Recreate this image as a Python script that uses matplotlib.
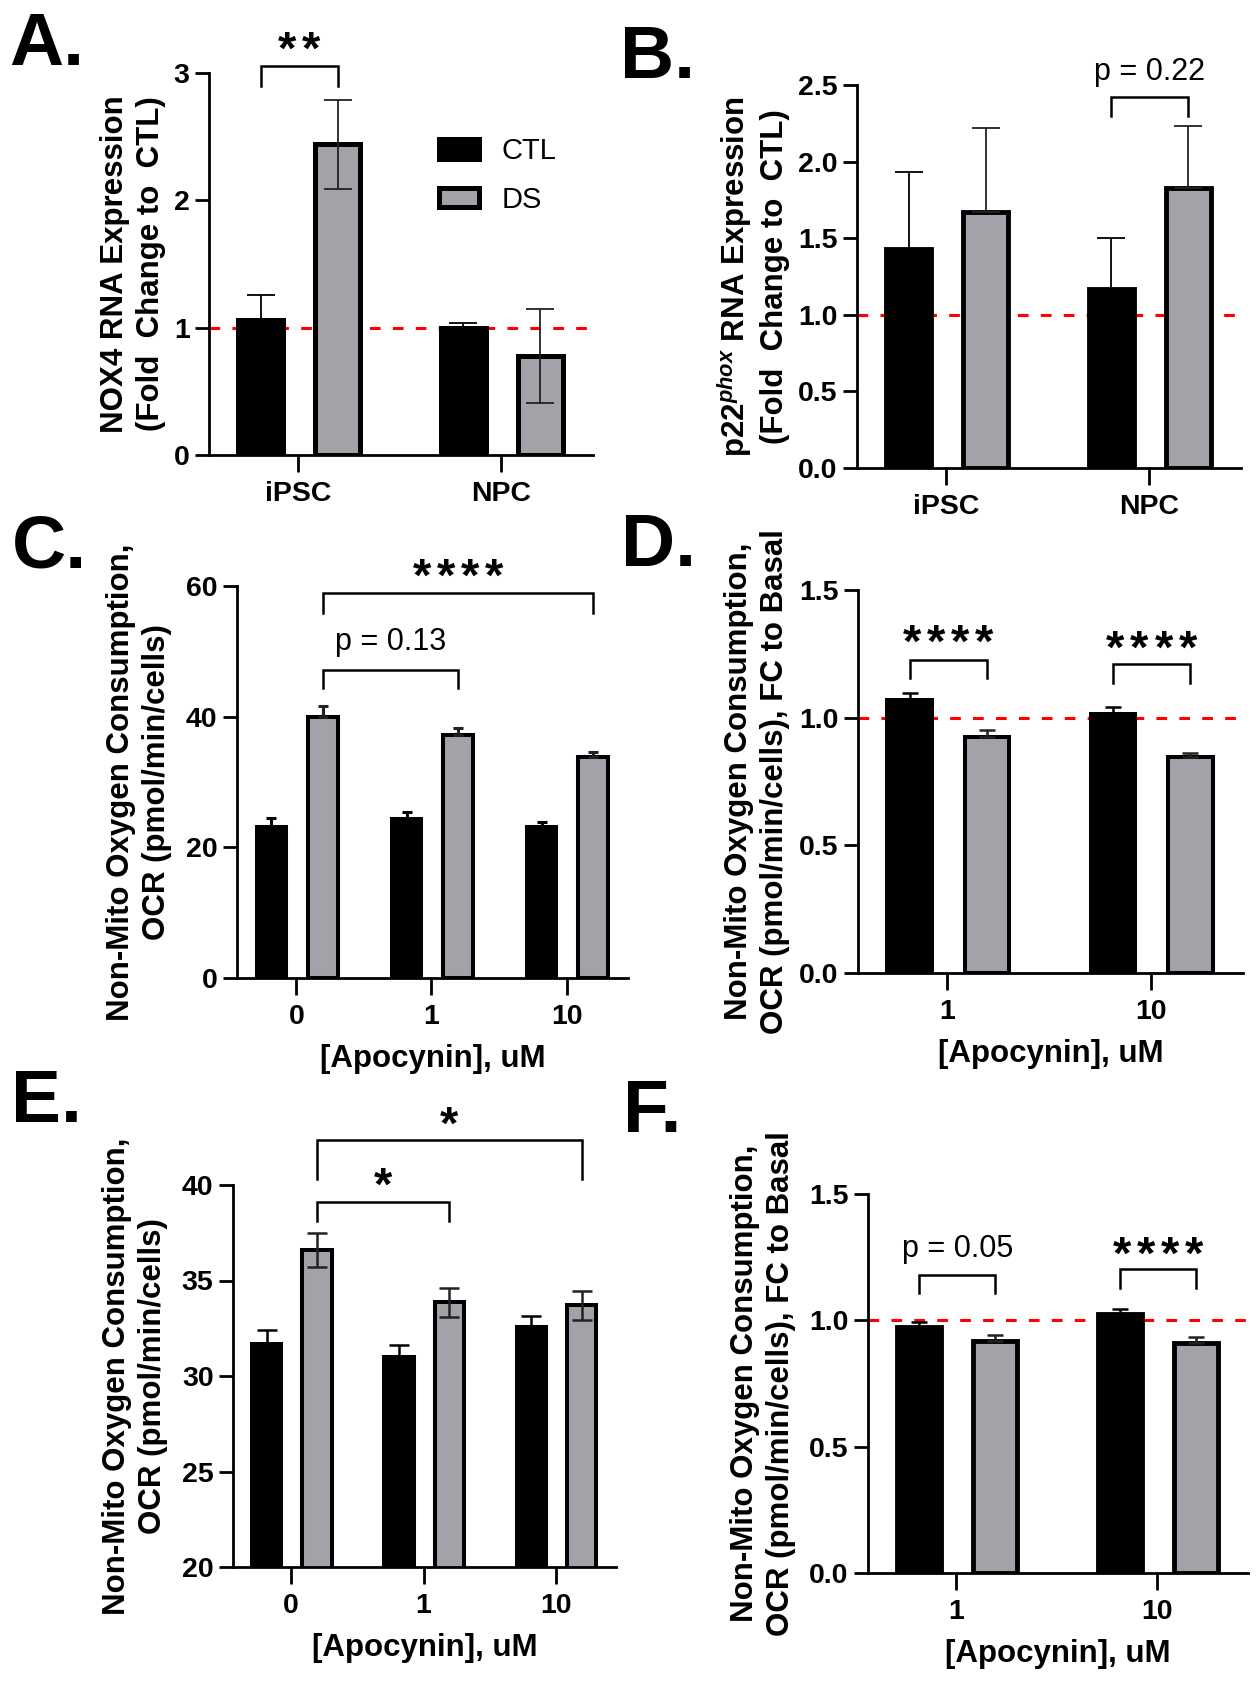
import matplotlib
matplotlib.use("Agg")
import matplotlib.pyplot as plt
import numpy as np

plt.rcParams["font.family"] = ["Liberation Sans", "DejaVu Sans"]
plt.rcParams["font.weight"] = "bold"
plt.rcParams["axes.labelweight"] = "bold"
plt.rcParams["mathtext.fontset"] = "custom"
plt.rcParams["mathtext.it"] = "Liberation Sans:italic:bold"
plt.rcParams["mathtext.rm"] = "Liberation Sans:bold"

W, H = 1260, 1684
GREY = "#a3a2a8"

# ---- data ----
cell_types = ["iPSC", "NPC"]
nox4_ctl = [1.06, 1.00]
nox4_ctl_err = [0.20, 0.04]
nox4_ds = [2.44, 0.78]
nox4_ds_err = [0.35, 0.37]

p22_ctl = [1.43, 1.17]
p22_ctl_err = [0.50, 0.33]
p22_ds = [1.67, 1.83]
p22_ds_err = [0.55, 0.40]

apo_doses = ["0", "1", "10"]
apo_fc_doses = ["1", "10"]

c_ctl = [23.1, 24.4, 23.1]
c_ctl_err = [1.4, 1.0, 0.8]
c_ds = [39.9, 37.2, 33.9]
c_ds_err = [1.8, 1.1, 0.7]

d_ctl = [1.07, 1.015]
d_ctl_err = [0.025, 0.025]
d_ds = [0.926, 0.845]
d_ds_err = [0.026, 0.016]

e_ctl = [31.7, 31.0, 32.55]
e_ctl_err = [0.7, 0.6, 0.6]
e_ds = [36.6, 33.86, 33.7]
e_ds_err = [0.9, 0.75, 0.75]

f_ctl = [0.975, 1.025]
f_ctl_err = [0.02, 0.018]
f_ds = [0.918, 0.912]
f_ds_err = [0.022, 0.024]

ocr_label = "Non-Mito Oxygen Consumption,\nOCR (pmol/min/cells)"
ocr_fc_label = "Non-Mito Oxygen Consumption,\nOCR (pmol/min/cells), FC to Basal"
apo_label = "[Apocynin], uM"

fig = plt.figure(figsize=(W / 100, H / 100), dpi=100)


def make_axes(x0, x1, y0, y1):
    return fig.add_axes([x0 / W, 1 - y1 / H, (x1 - x0) / W, (y1 - y0) / H])


def draw_panel(ax, labels, ctl, ctl_err, ds, ds_err, ylim, yticks, yfmt,
               ylabel, label_x, both=False, edge=3.0, err_lw=1.5, cap=6,
               refline=False, xlabel=None):
    x = np.arange(len(labels))
    n = len(labels)
    zeros = [0] * n
    if refline:
        ax.axhline(1.0, color="red", lw=2.2, dashes=(3.5, 4), zorder=1)
    ax.bar(x - 0.185, ctl, 0.22, color="black", edgecolor="black",
           linewidth=edge, zorder=2, label="CTL")
    ax.bar(x + 0.195, ds, 0.22, color=GREY, edgecolor="black",
           linewidth=edge, zorder=2, label="DS")
    ax.errorbar(x - 0.185, ctl, yerr=[ctl_err if both else zeros, ctl_err],
                fmt="none", ecolor="black", elinewidth=err_lw, capsize=cap,
                capthick=err_lw, zorder=3)
    ax.errorbar(x + 0.195, ds, yerr=[ds_err if both else zeros, ds_err],
                fmt="none", ecolor="#222222", elinewidth=err_lw, capsize=cap,
                capthick=err_lw, zorder=3)
    ax.set_xlim(-0.44, n - 1 + 0.455)
    ax.set_ylim(*ylim)
    ax.set_yticks(yticks)
    ax.set_yticklabels([yfmt.format(t) for t in yticks])
    ax.set_xticks(x)
    ax.set_xticklabels(labels)
    for s in ["top", "right"]:
        ax.spines[s].set_visible(False)
    for s in ["left", "bottom"]:
        ax.spines[s].set_linewidth(2.0)
    ax.tick_params(axis="y", length=10, width=2.0, pad=4, labelsize=20.5)
    ax.tick_params(axis="x", length=12, width=2.0, pad=7, labelsize=20.5)
    ax.set_ylabel(ylabel, fontsize=22.5, linespacing=1.25)
    ax.yaxis.set_label_coords(label_x, 0.5)
    if xlabel:
        ax.set_xlabel(xlabel, fontsize=22.5, labelpad=10)


def bracket(ax, x0, x1, ytop, ybot, lw=1.8):
    ax.plot([x0, x0, x1, x1], [ybot, ytop, ytop, ybot], color="black",
            lw=lw, clip_on=False, solid_joinstyle="miter", zorder=4)


def stars(ax, xc, yc, n, fs=34, step=17.3):
    # GraphPad-style widely spaced asterisks, centred on (xc, yc)
    for i in range(n):
        dx = (i - (n - 1) / 2) * step
        ax.annotate("*", (xc, yc), xytext=(dx, -0.45 * fs),
                    textcoords="offset points", ha="center", va="baseline",
                    fontsize=fs, fontweight="bold", annotation_clip=False)


def ptext(ax, xc, yb, s, fs=22):
    ax.text(xc, yb, s, ha="center", va="baseline", fontsize=fs,
            fontweight="normal", clip_on=False)


L, R = -0.185, 0.195

# A
axA = make_axes(209, 593, 73, 455)
draw_panel(axA, cell_types, nox4_ctl, nox4_ctl_err, nox4_ds, nox4_ds_err,
           (0, 3), [0, 1, 2, 3], "{:d}",
           "NOX4 RNA Expression\n(Fold  Change to  CTL)", -0.112,
           both=True, edge=3.6, err_lw=1.3, cap=9.8, refline=True)
bracket(axA, L, R, 3.052, 2.895)
stars(axA, (L + R) / 2, 3.236, 2)
axA.legend(loc="upper left", bbox_to_anchor=(0.6, 0.832), frameon=False,
           prop={"weight": "normal", "size": 21}, handlelength=1.37,
           handleheight=0.65, handletextpad=0.75, labelspacing=0.7,
           borderpad=0, borderaxespad=0)

# B
axB = make_axes(857, 1241, 85, 468)
draw_panel(axB, cell_types, p22_ctl, p22_ctl_err, p22_ds, p22_ds_err,
           (0, 2.5), [0, 0.5, 1.0, 1.5, 2.0, 2.5], "{:.1f}",
           "p22$^{phox}$ RNA Expression\n(Fold  Change to  CTL)", -0.174,
           edge=3.5, err_lw=1.3, cap=10, refline=True)
bracket(axB, 1 + L, 1 + R, 2.42, 2.30)
ptext(axB, 1 + (L + R) / 2, 2.53, "p = 0.22")

# C
axC = make_axes(237, 628, 586, 978)
draw_panel(axC, apo_doses, c_ctl, c_ctl_err, c_ds, c_ds_err,
           (0, 60), [0, 20, 40, 60], "{:d}", ocr_label, -0.166,
           edge=2.9, err_lw=2.2, cap=3.6, xlabel=apo_label)
bracket(axC, R, 2 + R, 59.0, 55.9)
stars(axC, 1 + R, 62.46, 4)
bracket(axC, R, 1 + R, 47.2, 44.4)
ptext(axC, 0.5 + R, 50.2, "p = 0.13")

# D
axD = make_axes(858, 1243, 590, 973)
draw_panel(axD, apo_fc_doses, d_ctl, d_ctl_err, d_ds, d_ds_err,
           (0, 1.5), [0, 0.5, 1.0, 1.5], "{:.1f}", ocr_fc_label, -0.177,
           edge=2.9, err_lw=1.8, cap=5.8, refline=True, xlabel=apo_label)
bracket(axD, L, R, 1.227, 1.155)
stars(axD, (L + R) / 2, 1.321, 4)
bracket(axD, 1 + L, 1 + R, 1.209, 1.134)
stars(axD, 1 + (L + R) / 2, 1.30, 4)

# E
axE = make_axes(233, 616, 1185, 1567)
draw_panel(axE, apo_doses, e_ctl, e_ctl_err, e_ds, e_ds_err,
           (20, 40), [20, 25, 30, 35, 40], "{:d}", ocr_label, -0.170,
           both=True, edge=2.9, err_lw=1.8, cap=7.2, xlabel=apo_label)
bracket(axE, R, 2 + R, 42.36, 40.34)
stars(axE, 1 + R, 43.56, 1)
bracket(axE, R, 1 + R, 39.11, 38.1)
stars(axE, 0.5 + R, 40.34, 1)

# F
axF = make_axes(868, 1248, 1194, 1573)
draw_panel(axF, apo_fc_doses, f_ctl, f_ctl_err, f_ds, f_ds_err,
           (0, 1.5), [0, 0.5, 1.0, 1.5], "{:.1f}", ocr_fc_label, -0.189,
           edge=3.5, err_lw=1.8, cap=5.8, refline=True, xlabel=apo_label)
bracket(axF, L, R, 1.18, 1.11)
ptext(axF, (L + R) / 2, 1.249, "p = 0.05")
bracket(axF, 1 + L, 1 + R, 1.203, 1.127)
stars(axF, 1 + (L + R) / 2, 1.287, 4)

# panel letters
for letter, x, base in [("A.", 9, 65), ("B.", 620, 78), ("C.", 12, 568),
                        ("D.", 621, 566), ("E.", 11, 1122), ("F.", 623, 1132)]:
    fig.text(x / W, 1 - base / H, letter, fontsize=54, fontweight="bold",
             ha="left", va="baseline")

fig.savefig("out.png", dpi=100)
